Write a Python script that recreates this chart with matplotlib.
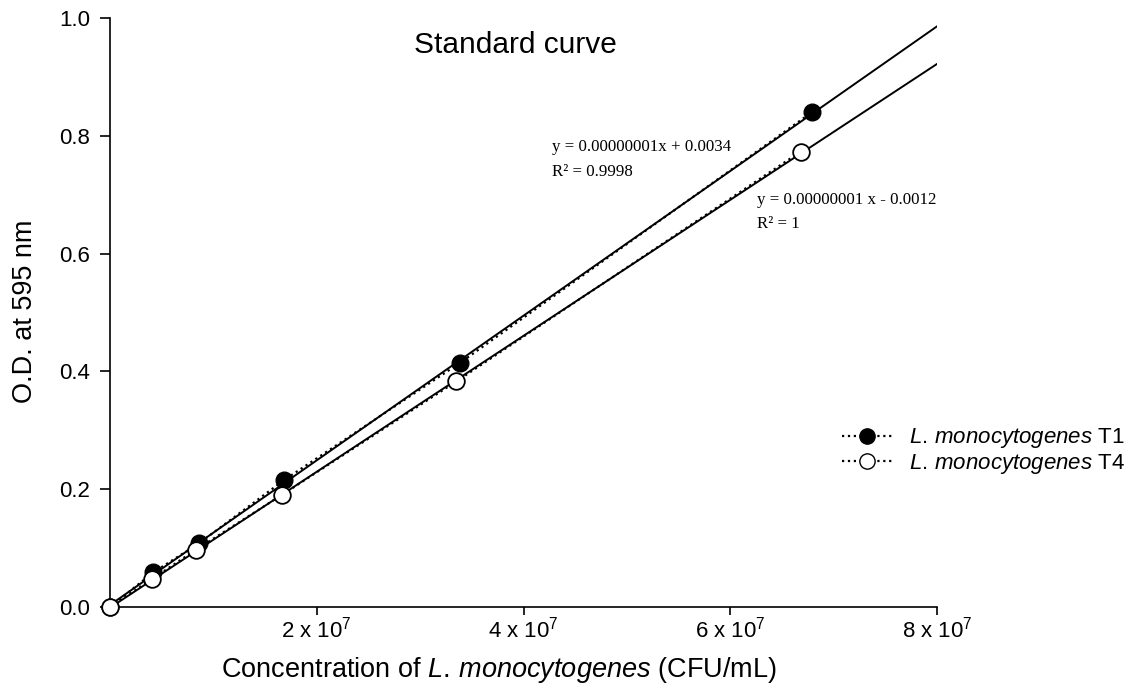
import matplotlib
matplotlib.use("Agg")
import matplotlib.pyplot as plt
import numpy as np
from matplotlib.lines import Line2D

plt.rcParams['font.family'] = ['Liberation Sans', 'DejaVu Sans']
plt.rcParams['mathtext.fontset'] = 'custom'
plt.rcParams['mathtext.rm'] = 'Liberation Sans'
plt.rcParams['mathtext.it'] = 'Liberation Sans:italic'

# Data
t1_x = [0, 4.2e6, 8.6e6, 1.68e7, 3.39e7, 6.79e7]
t1_y = [0.0, 0.059, 0.108, 0.215, 0.415, 0.840]
t4_x = [0, 4.1e6, 8.3e6, 1.66e7, 3.35e7, 6.68e7]
t4_y = [0.0, 0.048, 0.097, 0.190, 0.383, 0.773]
err = [0.003, 0.004, 0.004, 0.005, 0.005, 0.004]

t1_slope, t1_intercept = 1.228e-8, 0.0034
t4_slope, t4_intercept = 1.154e-8, -0.0012

x_ticks = [2e7, 4e7, 6e7, 8e7]
x_tick_labels = ["2 x 10$^7$", "4 x 10$^7$", "6 x 10$^7$", "8 x 10$^7$"]
y_ticks = [0.0, 0.2, 0.4, 0.6, 0.8, 1.0]

fig = plt.figure(figsize=(11.41, 6.98), dpi=100)
ax = fig.add_axes([110/1141, 1-607/698, 827/1141, 589/698])

xfit = np.array([0, 8e7])
ax.plot(xfit, t1_slope*xfit + t1_intercept, color='black', lw=1.4, zorder=2)
ax.plot(xfit, t4_slope*xfit + t4_intercept, color='black', lw=1.4, zorder=2)

ax.errorbar(t1_x, t1_y, yerr=err, fmt='o', ls=':', color='black', mfc='black',
            mec='black', ms=12, lw=1.6, capsize=3, elinewidth=1, zorder=4, clip_on=False)
ax.errorbar(t4_x, t4_y, yerr=err, fmt='o', ls=':', color='black', mfc='white',
            mec='black', ms=12, mew=1.3, lw=1.6, capsize=3, elinewidth=1, zorder=5, clip_on=False)

ax.set_xlim(0, 8e7)
ax.set_ylim(0, 1.0)
ax.set_xticks(x_ticks)
ax.set_xticklabels(x_tick_labels, fontsize=16)
ax.set_yticks(y_ticks)
ax.set_yticklabels([f"{v:.1f}" for v in y_ticks], fontsize=16)
ax.tick_params(axis='y', direction='out', length=7.5, width=1.2, pad=7)
ax.tick_params(axis='x', direction='out', length=6, width=1.2, pad=1)
for s in ['top', 'right']:
    ax.spines[s].set_visible(False)
for s in ['left', 'bottom']:
    ax.spines[s].set_linewidth(1.2)

fig.text(499/1141, 1-670/698, "Concentration of $\\mathit{L.\\,monocytogenes}$ (CFU/mL)",
         ha='center', va='center', fontsize=19.5)
fig.text(25/1141, 1-311/698, "O.D. at 595 nm", rotation=90, ha='center', va='center', fontsize=19.5)
fig.text(515/1141, 1-45/698, "Standard curve", ha='center', va='center', fontsize=21.5)

serif = ['Liberation Serif', 'DejaVu Serif']
fig.text(552/1141, 1-147/698, "y = 0.00000001x + 0.0034", family=serif, fontsize=12.2, va='center')
fig.text(552/1141, 1-172/698, "R² = 0.9998", family=serif, fontsize=12.2, va='center')
fig.text(757/1141, 1-200/698, "y = 0.00000001 x - 0.0012", family=serif, fontsize=12.2, va='center')
fig.text(757/1141, 1-224/698, "R² = 1", family=serif, fontsize=12.2, va='center')

handles = [Line2D([], [], ls=':', color='black', marker='o', mfc='black', ms=11, lw=1.6),
           Line2D([], [], ls=':', color='black', marker='o', mfc='white', mec='black', ms=11, lw=1.6)]
labels = ["$\\mathit{L.\\,monocytogenes}$ T1", "$\\mathit{L.\\,monocytogenes}$ T4"]
fig.legend(handles, labels, loc='center left', bbox_to_anchor=(842/1141, 1-451/698),
           frameon=False, fontsize=16, handlelength=2.25, handletextpad=0.75, labelspacing=0.05,
           borderaxespad=0, borderpad=0)

fig.savefig("out.png", dpi=100)
